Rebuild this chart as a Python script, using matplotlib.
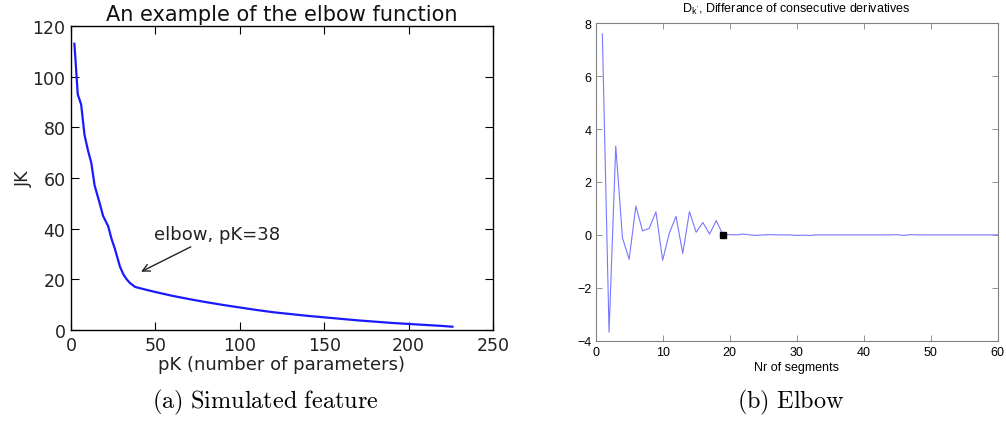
import matplotlib
matplotlib.use("Agg")
import matplotlib.pyplot as plt

# ---- Data: left panel (elbow function) ----
pk = [2, 4, 6, 8, 10, 12, 14, 17, 19, 22, 24, 26, 29, 31, 33, 35, 38, 45, 50, 60, 70, 80, 90,
      100, 110, 120, 130, 140, 150, 160, 170, 180, 190, 200, 210, 220, 226]
jk = [113, 93, 89, 77, 71, 66, 57, 50, 45, 41, 36, 32, 25, 22, 20, 18.5, 17, 15.8, 15, 13.5,
      12.2, 11, 9.9, 8.9, 7.9, 7.0, 6.3, 5.6, 5.0, 4.4, 3.8, 3.3, 2.8, 2.4, 2.0, 1.6, 1.3]
elbow_pk = 38

# ---- Data: right panel (difference of consecutive derivatives) ----
segments = list(range(1, 61))
dk = [7.6, -3.68, 3.36, -0.11, -0.92, 1.09, 0.15, 0.25, 0.87, -0.96,
      0.07, 0.70, -0.70, 0.88, 0.10, 0.47, 0.03, 0.54, 0.0, 0.01,
      0.0, 0.03, 0.0, -0.02, 0.0, 0.01, 0.0, 0.0, 0.0, -0.02,
      -0.01, -0.02, 0.0, 0.0, 0.0, 0.0, 0.0, 0.0, 0.0, 0.0,
      0.0, 0.0, 0.0, 0.0, 0.01, -0.02, 0.01, 0.0, 0.0, 0.0,
      0.0, 0.0, 0.0, 0.0, 0.0, 0.0, 0.0, 0.0, 0.0, 0.0]
elbow_seg = 19

plt.rcParams['mathtext.fontset'] = 'cm'
fig = plt.figure(figsize=(10.06, 4.27), dpi=100)

# ---- Left panel ----
ax1 = fig.add_axes([0.0706, 0.2248, 0.4194, 0.712])
ax1.plot(pk, jk, color='#1a1aff', lw=1.6)
ax1.set_xlim(0, 250)
ax1.set_ylim(0, 120)
ax1.set_xticks([0, 50, 100, 150, 200, 250])
ax1.set_yticks([0, 20, 40, 60, 80, 100, 120])
ax1.tick_params(direction='in', top=True, right=True, length=6, width=0.8,
                labelsize=12.5, labelcolor='#222222', pad=4)
for s in ax1.spines.values():
    s.set_linewidth(1.0)
    s.set_color('black')
ax1.set_title('An example of the elbow function', fontsize=15, color='#111111', pad=4)
ax1.set_xlabel('pK (number of parameters)', fontsize=13, color='#222222', labelpad=1)
ax1.set_ylabel('JK', fontsize=12.5, color='#222222', labelpad=0)
ax1.annotate('elbow, pK=%d' % elbow_pk, xy=(41.5, 23), xytext=(49, 36),
             fontsize=13, color='#222222',
             arrowprops=dict(arrowstyle='->', color='#222222', lw=1.0,
                             shrinkA=2, shrinkB=0))

# ---- Right panel ----
ax2 = fig.add_axes([0.5921, 0.1998, 0.3996, 0.7433])
ax2.plot(segments, dk, color='#7777ff', lw=0.8)
ax2.plot([elbow_seg], [dk[elbow_seg - 1]], 's', color='black', ms=4)
ax2.set_xlim(0, 60)
ax2.set_ylim(-4, 8)
ax2.set_xticks([0, 10, 20, 30, 40, 50, 60])
ax2.set_yticks([-4, -2, 0, 2, 4, 6, 8])
ax2.tick_params(direction='in', top=True, right=True, length=4, width=0.6,
                labelsize=9, color='#808080', pad=3)
ax2.tick_params(axis='x', pad=4)
for lab in ax2.get_xticklabels() + ax2.get_yticklabels():
    lab.set_family('Liberation Sans')
for s in ax2.spines.values():
    s.set_linewidth(0.8)
    s.set_color('#808080')
ax2.set_title(r"D$_{\mathregular{k'}}$, Differance of consecutive derivatives",
              fontsize=9, family='Liberation Sans', pad=8)
ax2.set_xlabel('Nr of segments', fontsize=9, family='Liberation Sans', labelpad=2)

# ---- Captions ----
fig.text(0.2634, 0.058, r'$\mathrm{(a)\ Simulated\ feature}$', ha='center', va='center', fontsize=17.5)
fig.text(0.7865, 0.058, r'$\mathrm{(b)\ Elbow}$', ha='center', va='center', fontsize=17.5)

fig.savefig('out.png', dpi=100)
